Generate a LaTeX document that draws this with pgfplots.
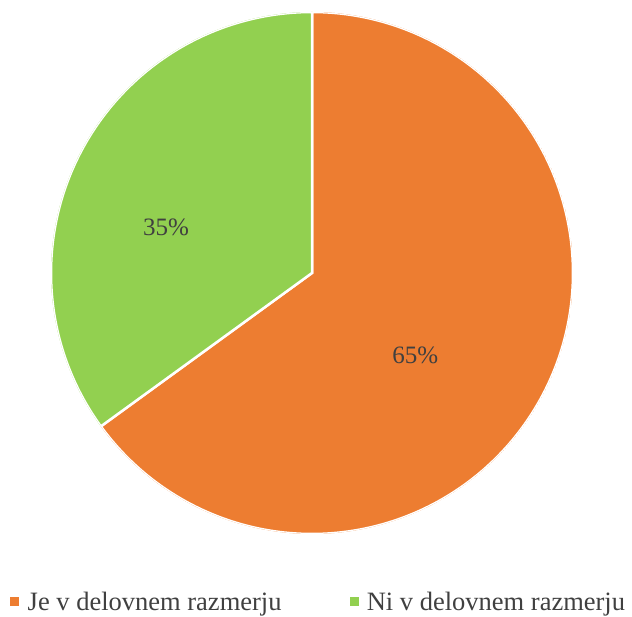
\documentclass[border=0pt]{standalone}
\usepackage{fontspec}
\setmainfont{Liberation Serif}
\usepackage{pgfplots}
\pgfplotsset{compat=1.18}
\usepgfplotslibrary{polar}
\definecolor{pieorange}{HTML}{ED7D31}
\definecolor{piegreen}{HTML}{92D050}
\definecolor{labgray}{HTML}{404040}
\def\valJe{65}
\def\valNi{35}
\pgfmathsetmacro{\angEnd}{90-3.6*\valJe}
\begin{document}
\begin{tikzpicture}
\path[use as bounding box] (0,0) rectangle (632pt,617pt);
\begin{polaraxis}[
  at={(312pt,344pt)}, anchor=center,
  width=522pt, height=522pt, scale only axis,
  hide axis, ymin=0, ymax=1,
  legend columns=2,
  legend style={draw=none, fill=none, at={(0.513,-0.13)}, anchor=center,
    font=\fontsize{26.5}{30}\selectfont, text=labgray,
    /tikz/every even column/.append style={column sep=66pt},
    cells={anchor=west}},
  legend image code/.code={\fill[#1,draw=none] (0pt,-4.5pt) rectangle (9pt,4.5pt); \path (14pt,0pt);},
]
\addplot[fill=pieorange, draw=white, line width=2.5pt, domain=\angEnd:90, samples=240] {1} -- (axis cs:0,0) -- cycle;
\addlegendentry{Je v delovnem razmerju}
\addplot[fill=piegreen, draw=white, line width=2.5pt, domain=90:\angEnd+360, samples=140] {1} -- (axis cs:0,0) -- cycle;
\addlegendentry{Ni v delovnem razmerju}
\node[text=labgray, font=\fontsize{25}{30}\selectfont] at (axis cs:162.8,0.585) {35\%};
\node[text=labgray, font=\fontsize{25}{30}\selectfont] at (axis cs:-38.5,0.506) {65\%};
\end{polaraxis}
\end{tikzpicture}
\end{document}
